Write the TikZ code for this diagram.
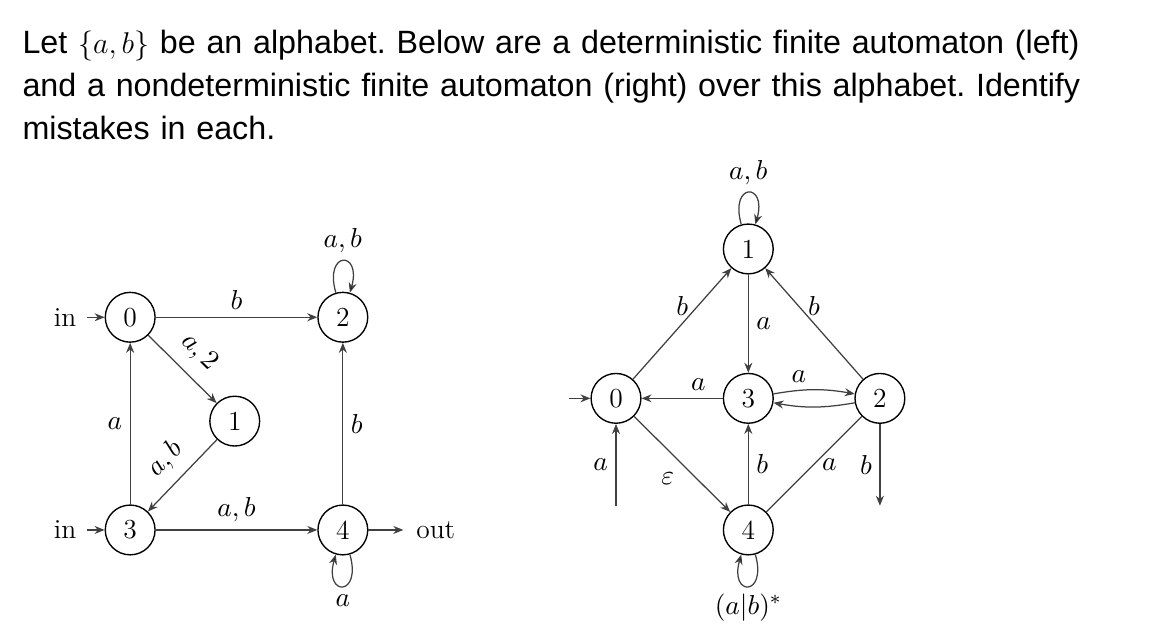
\documentclass[tikz,border=0pt]{standalone}
\usepackage{fontspec}
\newfontfamily\helv{Liberation Sans}
\usetikzlibrary{arrows.meta,positioning}

\begin{document}
\begin{tikzpicture}[
    state/.style={draw, circle, line width=0.55pt, minimum size=0.70cm,
                  inner sep=0pt, font=\fontsize{11}{13}\selectfont},
    flow/.style={-{Stealth[length=4pt,width=3.2pt]}, line width=0.5pt,
                 draw=black!75},
    plain/.style={line width=0.5pt, draw=black!75},
    lbl/.style={font=\fontsize{11}{13}\selectfont, inner sep=3pt},
    io/.style={font=\fontsize{11}{13}\selectfont, inner ysep=2pt},
    loopup/.style={loop, in=74, out=106, min distance=3.6mm, looseness=8},
    loopdown/.style={loop, in=254, out=286, min distance=3.6mm, looseness=8},
]
    \useasboundingbox (0,0) rectangle (16.364,-9.026);

    % question text
    \node[anchor=base west, inner sep=0pt, text width=16cm, align=left,
          font=\helv\fontsize{12.9}{17.2}\selectfont] (question) at (0.31,-0.745)
        {\frenchspacing Let $\{a,b\}$ be an alphabet. Below are a deterministic finite automaton (left)\\
         and a nondeterministic finite automaton (right) over this alphabet. Identify\\
         mistakes in each.};

    % DFA (left)
    \node[state] (q0) at (1.83,-4.46) {0};
    \node[state] (q2) at (4.82,-4.46) {2};
    \node[state] (q1) at (3.30,-5.92) {1};
    \node[state] (q3) at (1.83,-7.45) {3};
    \node[state] (q4) at (4.82,-7.45) {4};

    \node[io, inner xsep=4pt, left=0.25cm of q0] (in0) {in};
    \node[io, inner xsep=4pt, left=0.25cm of q3] (in3) {in};
    \node[io, inner xsep=5pt, right=0.49cm of q4] (out) {out};

    \draw[flow] (in0) -- (q0);
    \draw[flow] (in3) -- (q3);
    \draw[flow] (q4) -- (out);
    \draw[flow] (q0) -- node[lbl, above] {$b$} (q2);
    \draw[flow] (q0) -- node[lbl, sloped, above, inner sep=4.5pt] {$a,2$} (q1);
    \draw[flow] (q1) -- node[lbl, sloped, above, inner sep=4.5pt] {$a,b$} (q3);
    \draw[flow] (q3) -- node[lbl, left] {$a$} (q0);
    \draw[flow] (q3) -- node[lbl, above] {$a,b$} (q4);
    \draw[flow] (q4) -- node[lbl, right] {$b$} (q2);
    \draw[flow] (q2) edge[loopup] node[lbl, above] {$a,b$} (q2);
    \draw[flow] (q4) edge[loopdown] node[lbl, below] {$a$} (q4);

    % NFA (right)
    \node[state] (r1) at (10.52,-3.50) {1};
    \node[state] (r0) at (8.66,-5.60) {0};
    \node[state] (r3) at (10.52,-5.60) {3};
    \node[state] (r2) at (12.37,-5.60) {2};
    \node[state] (r4) at (10.52,-7.45) {4};

    \coordinate[left=0.3cm of r0] (start);
    \coordinate[below=1.15cm of r0] (from0);
    \coordinate[below=1.15cm of r2] (to2);

    \draw[flow] (start) -- (r0);
    \draw[flow] (from0) -- node[lbl, left] {$a$} (r0);
    \draw[flow] (r2) -- node[lbl, left] {$b$} (to2);
    \draw[flow] (r0) -- node[lbl, above] {$b$} (r1);
    \draw[flow] (r2) -- node[lbl, above] {$b$} (r1);
    \draw[flow] (r1) -- node[lbl, right] {$a$} (r3);
    \draw[flow] (r3) -- node[lbl, above, pos=0.3] {$a$} (r0);
    \draw[flow] (r3) to[bend left=10] node[lbl, above, pos=0.3] {$a$} (r2);
    \draw[flow] (r2) to[bend left=10] (r3);
    \draw[flow] (r0) -- node[lbl, below left] {$\varepsilon$} (r4);
    \draw[flow] (r4) -- node[lbl, right] {$b$} (r3);
    \draw[plain] (r4) -- node[lbl, right] {$a$} (r2);
    \draw[flow] (r1) edge[loopup] node[lbl, above] {$a,b$} (r1);
    \draw[flow] (r4) edge[loopdown] node[lbl, below] {$(a|b)^*$} (r4);

\end{tikzpicture}
\end{document}
